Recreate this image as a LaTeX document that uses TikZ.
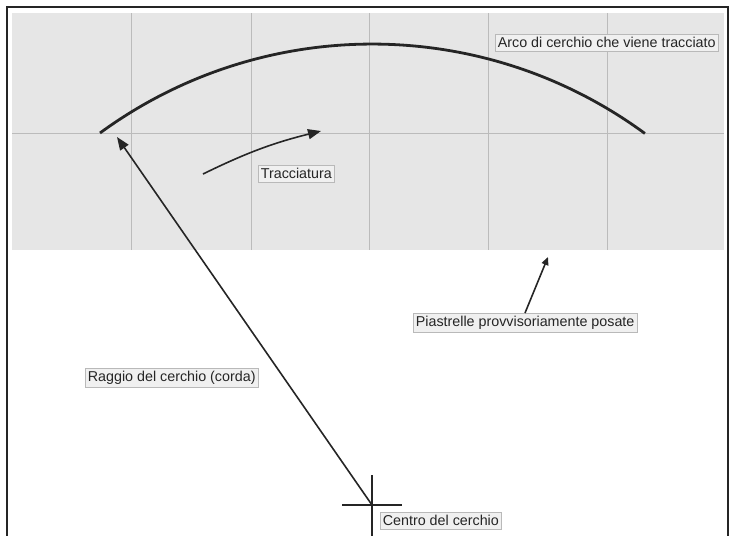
\documentclass[tikz,border=0pt]{standalone}
\usepackage{fontspec}
\setmainfont{Liberation Sans}
\usetikzlibrary{arrows.meta}
\definecolor{tilefill}{HTML}{E6E6E6}
\definecolor{tileline}{HTML}{BBBBBB}
\definecolor{ink}{HTML}{252525}
\begin{document}
\begin{tikzpicture}[x=1pt,y=-1pt,
  lbl/.style={draw=gray!55,fill=gray!12,line width=0.7pt,inner xsep=2.5pt,inner ysep=3pt,text=ink,font=\fontsize{14.3}{16}\selectfont},
  conn/.style={draw=ink,line width=1.6pt},
  bigtip/.style={-{Triangle[length=13pt,width=10pt]}},
  smalltip/.style={-{Triangle[length=8pt,width=7pt]}}]
\useasboundingbox (0,0) rectangle (732,536);
% frame
\draw[ink,line width=2pt] (7,536) -- (7,7) -- (728,7) -- (728,536);
% tiles
\fill[tilefill] (12,13) rectangle (724,250);
\foreach \x in {131,251,369,488,607}
  \draw[tileline,line width=1pt] (\x,13) -- (\x,250);
\draw[tileline,line width=1pt] (12,133) -- (724,133);
% arc
\draw[ink,line width=2.8pt] (100,133) arc[start angle=-126.2,end angle=-53.7,radius=460.8];
% crosshair
\coordinate (ctr) at (372,505);
\draw[ink,line width=1.3pt] (372,475) -- (372,536);
\draw[ink,line width=1.3pt] (342,505) -- (402,505);
% labels
\node[lbl,anchor=north west] (arco) at (495,34) {Arco di cerchio che viene tracciato};
\node[lbl,anchor=north west] (tracc) at (258,165) {Tracciatura};
\node[lbl,anchor=north west] (piast) at (413,313) {Piastrelle provvisoriamente posate};
\node[lbl,anchor=north west] (raggio) at (85,368) {Raggio del cerchio (corda)};
\node[lbl,anchor=north west] (centro) at (380,512) {Centro del cerchio};
% arrows
\coordinate (rtip) at (117,137);
\draw[conn,bigtip] (ctr) -- (rtip);
\coordinate (ts) at (203,174);
\coordinate (te) at (321,131);
\draw[conn,bigtip] (ts) to[bend left=6] (te);
\coordinate (ps) at (525,313);
\coordinate (pe) at (548,257);
\draw[conn,smalltip] (ps) -- (pe);
\end{tikzpicture}
\end{document}
